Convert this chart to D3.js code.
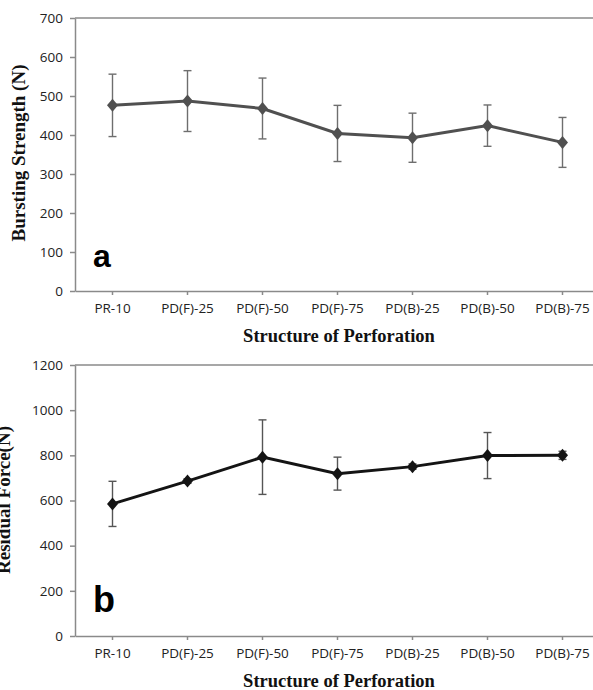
<!DOCTYPE html>
<html>
<head>
<meta charset="utf-8">
<script src="https://cdn.jsdelivr.net/npm/d3@7"></script>
<style>
	body { margin: 0; background: #fff; }
	svg { display: block; }
	.tick text { font-family: "Open Sans", sans-serif; font-size: 13.5px; fill: #222; }
	.title { font-family: "Liberation Serif", "Times New Roman", serif; font-weight: bold; fill: #111; }
	.letter { font-family: "Liberation Sans", Arial, sans-serif; font-weight: bold; fill: #000; }
</style>
</head>
<body>
<div class="chart"></div>
<script>
var WIDTH = 593,
	HEIGHT = 690;

var structures = ["PR-10", "PD(F)-25", "PD(F)-50", "PD(F)-75", "PD(B)-25", "PD(B)-50", "PD(B)-75"];

// panel a - bursting strength
var burstMean = [476, 487, 468, 404, 393, 424, 381];
var burstErr = [80, 78, 78, 72, 63, 53, 64];
var burstTicks = [0, 100, 200, 300, 400, 500, 600, 700];

// panel b - residual force
var residualMean = [585, 686, 792, 719, 750, 799, 800];
var residualErr = [100, 10, 165, 73, 12, 102, 18];
var residualTicks = [0, 200, 400, 600, 800, 1000, 1200];

var svg = d3.select(".chart").append("svg")
	.attr("width", WIDTH)
	.attr("height", HEIGHT);

var drawPanel = function(opts) {
	var xScale = d3.scaleBand()
		.domain(structures)
		.range([75, 600]);

	var yScale = d3.scaleLinear()
		.domain([0, d3.max(opts.ticks)])
		.range([opts.bottom, opts.top]);

	var cx = function(d, i) { return xScale(structures[i]) + xScale.bandwidth() / 2; };

	var g = svg.append("g");

	// top gridline
	g.append("line")
		.attr("x1", 75).attr("x2", 600)
		.attr("y1", yScale(d3.max(opts.ticks))).attr("y2", yScale(d3.max(opts.ticks)))
		.attr("stroke", "#8a8a8a")
		.attr("stroke-width", 1.5);

	var yAxis = d3.axisLeft(yScale)
		.tickValues(opts.ticks)
		.tickFormat(d3.format("d"))
		.tickSize(5)
		.tickSizeOuter(0)
		.tickPadding(7);

	var yAxisGroup = g.append("g")
		.attr("transform", "translate(75,0)")
		.call(yAxis);

	var xAxis = d3.axisBottom(xScale)
		.tickSize(4)
		.tickSizeOuter(0)
		.tickPadding(8);

	var xAxisGroup = g.append("g")
		.attr("transform", "translate(0," + opts.bottom + ")")
		.call(xAxis);

	g.selectAll(".domain, .tick line")
		.attr("stroke", "#8a8a8a")
		.attr("stroke-width", 1.5);

	// error bars
	var err = g.append("g")
		.attr("stroke", opts.errColor)
		.attr("stroke-width", 1.4);

	opts.mean.forEach(function(m, i) {
		var x = cx(m, i);
		var hi = yScale(m + opts.err[i]),
			lo = yScale(m - opts.err[i]);
		err.append("line").attr("x1", x).attr("x2", x).attr("y1", hi).attr("y2", lo);
		err.append("line").attr("x1", x - 4).attr("x2", x + 4).attr("y1", hi).attr("y2", hi);
		err.append("line").attr("x1", x - 4).attr("x2", x + 4).attr("y1", lo).attr("y2", lo);
	});

	var line = d3.line()
		.x(function(d, i) { return cx(d, i); })
		.y(function(d) { return yScale(d); });

	g.append("path")
		.attr("d", line(opts.mean))
		.attr("fill", "none")
		.attr("stroke", opts.color)
		.attr("stroke-width", 3);

	g.selectAll(".marker")
		.data(opts.mean)
		.enter()
		.append("path")
		.attr("class", "marker")
		.attr("d", "M0,-6.5L5.5,0L0,6.5L-5.5,0Z")
		.attr("transform", function(d, i) { return "translate(" + cx(d, i) + "," + yScale(d) + ")"; })
		.attr("fill", opts.color);

	// panel letter
	g.append("text")
		.attr("class", "letter")
		.attr("x", 93)
		.attr("y", opts.bottom - 24)
		.style("font-size", opts.letterSize + "px")
		.text(opts.letter);

	g.append("text")
		.attr("class", "title")
		.attr("x", 339)
		.attr("y", opts.bottom + 51)
		.attr("text-anchor", "middle")
		.style("font-size", "18.5px")
		.text("Structure of Perforation");

	g.append("text")
		.attr("class", "title")
		.attr("transform", "translate(" + opts.yTitleX + "," + opts.yTitleY + ") rotate(-90)")
		.attr("text-anchor", "middle")
		.style("font-size", "19px")
		.text(opts.yTitle);
}

drawPanel({
	mean: burstMean, err: burstErr, ticks: burstTicks,
	top: 18, bottom: 291,
	color: "#505050", errColor: "#6e6e6e",
	letter: "a", letterSize: 32,
	yTitle: "Bursting Strength (N)", yTitleX: 25, yTitleY: 153
});

drawPanel({
	mean: residualMean, err: residualErr, ticks: residualTicks,
	top: 365, bottom: 636,
	color: "#141414", errColor: "#555",
	letter: "b", letterSize: 36,
	yTitle: "Residual Force(N)", yTitleX: 10, yTitleY: 500
});
</script>
</body>
</html>
